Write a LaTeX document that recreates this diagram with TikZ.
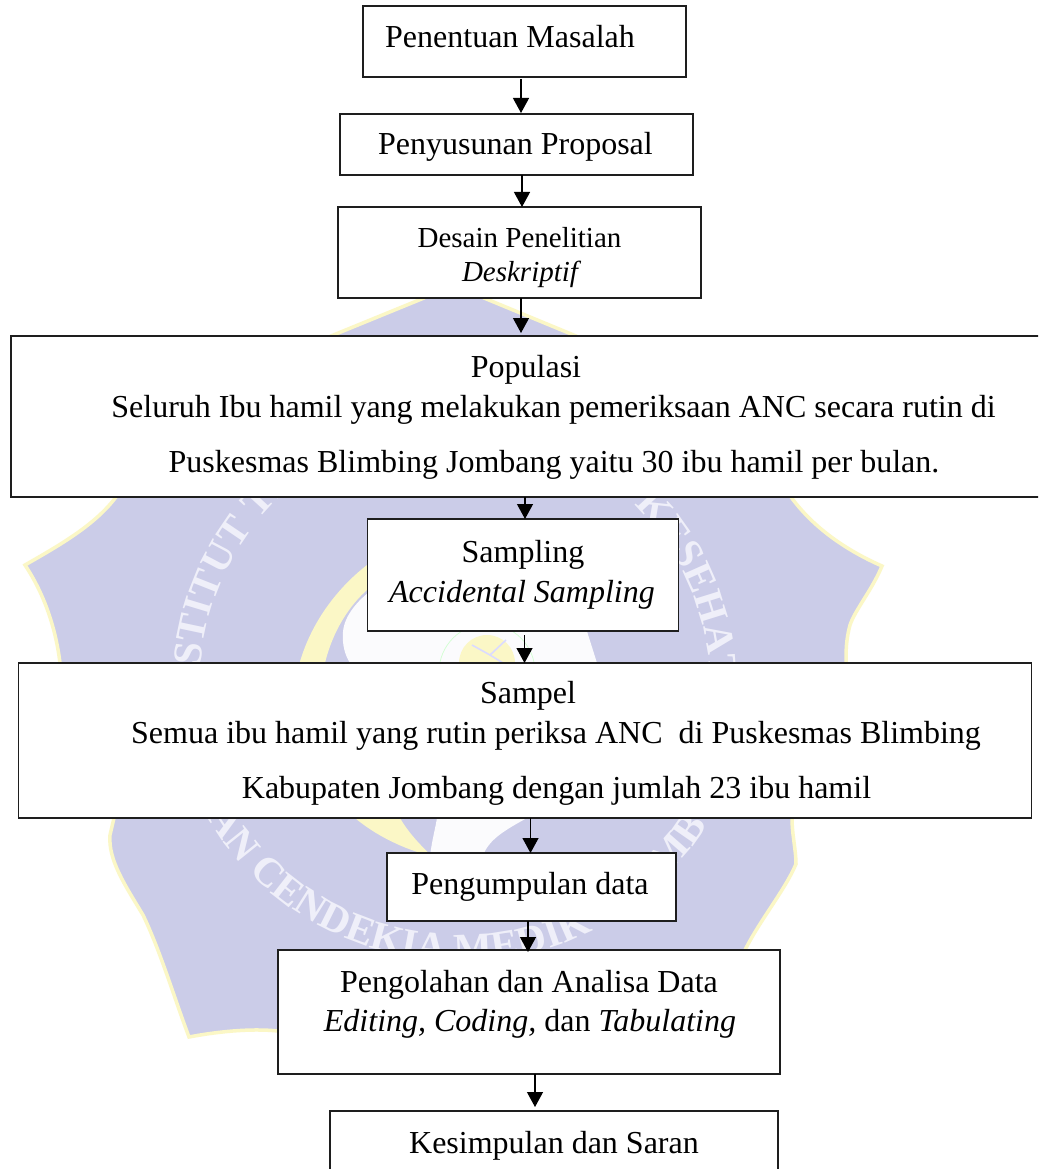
\documentclass[tikz,border=0pt]{standalone}
\usepackage{fontspec}
\setmainfont{Liberation Serif}
\usetikzlibrary{arrows.meta,decorations.text}
\definecolor{badge}{HTML}{CBCCE8}
\definecolor{rim}{HTML}{FBF7C6}
\definecolor{pale}{HTML}{FBFBFD}
\definecolor{wmtext}{HTML}{EFEFF9}
\definecolor{inkline}{HTML}{1E1E1E}
\newcommand\boxline[3]{\makebox[0pt][c]{\hspace{\dimexpr #1pt*2\relax}\raisebox{\dimexpr-1\dimexpr#2pt\relax\relax}[0pt][0pt]{#3}}}
\newcommand\bigfont{\fontsize{32}{38}\selectfont}
\newcommand\midfont{\fontsize{29}{35}\selectfont}
\tikzset{
  flowbox/.style={draw=inkline,line width=1.3pt,fill=white,inner sep=0pt,outer sep=0pt,font=\bigfont},
  flowarrow/.style={draw=black,line width=1.2pt,-{Triangle[length=15pt,width=16pt]}},
  wmarc/.style={decorate,decoration={text along path,text align=left,
    text={|\fontsize{41}{41}\selectfont\bfseries\color{wmtext}|#1}}}
}
\begin{document}
\begin{tikzpicture}[x=1pt,y=-1pt]
\path[use as bounding box,clip] (0,0) rectangle (1038,1169);
\fill[white] (0,0) rectangle (1038,1169);
% watermark badge
\path[fill=badge,draw=rim,line width=3.5pt,line join=miter]
  (453,278) -- (484,298) -- (576,336)
  -- (700,420) -- (791,497)
  .. controls (815,530) and (850,552) .. (882,566)
  .. controls (872,590) and (855,610) .. (850,625)
  .. controls (846,640) and (846,650) .. (846,663)
  -- (792,818) .. controls (792,835) and (796,850) .. (796,864)
  .. controls (785,890) and (760,920) .. (745,950)
  -- (650,1040) -- (530,1040) -- (278,1031)
  .. controls (250,1028) and (215,1032) .. (189,1037)
  .. controls (175,1000) and (160,950) .. (143,915)
  .. controls (125,885) and (108,860) .. (110,835)
  -- (114,818) -- (60,663)
  .. controls (56,630) and (45,595) .. (25,565)
  .. controls (60,545) and (95,525) .. (116,497)
  -- (230,420) -- (331,336) -- (424,298) -- cycle;
% pale central shield
\fill[pale] (343,632) .. controls (345,600) and (400,560) .. (470,555)
  .. controls (530,555) and (575,590) .. (585,625)
  -- (597,663) -- (600,700) -- (527,818)
  .. controls (505,830) and (488,840) .. (483,856) -- (430,856)
  .. controls (432,840) and (435,830) .. (437,818)
  -- (350,663) .. controls (345,655) and (342,645) .. (343,632) -- cycle;
% yellow crescent
\fill[rim] (367,565) .. controls (335,590) and (310,625) .. (299,665)
  .. controls (280,730) and (300,790) .. (355,818)
  .. controls (375,835) and (405,850) .. (432,856)
  .. controls (420,845) and (408,832) .. (400,818)
  .. controls (345,780) and (305,720) .. (325,663)
  .. controls (333,630) and (350,605) .. (367,590) -- cycle;
% small emblem
\draw[green!18!white,line width=.7pt] (487,672) circle[radius=48];
\fill[rim] (487,663) circle[radius=28];
\draw[blue!14!white,line width=1.6pt] (472,645) -- (490,655) -- (506,640) (490,655) -- (503,663);
% arc lettering
\path[wmarc={STITUT TE}] (460,685) ++(-176:260) arc[start angle=-176,end angle=-120,radius=260];
\path[wmarc={KESEHAT}] (460,685) ++(-46:250) arc[start angle=-46,end angle=10,radius=250];
\path[wmarc={AN CENDEKIA MEDIK}] (460,670) ++(150:292) arc[start angle=150,end angle=50,radius=292];
\path[wmarc={MB}] (460,670) ++(45:292) arc[start angle=45,end angle=20,radius=292];
% boxes
\node[flowbox,minimum width=323pt,minimum height=71pt] (masalah) at (524.5,41.5)
  {\boxline{-14.5}{6.5}{Penentuan Masalah}};
\node[flowbox,minimum width=353pt,minimum height=61pt] (proposal) at (516.5,144.5)
  {\boxline{-1}{10.5}{Penyusunan Proposal}};
\node[flowbox,font=\midfont,minimum width=363pt,minimum height=91pt] (desain) at (519.5,252.5)
  {\boxline{0}{-5.5}{Desain Penelitian}\boxline{0.5}{28.5}{\itshape Deskriptif}};
\node[flowbox,minimum width=1029pt,minimum height=161pt] (populasi) at (525.5,416.5)
  {\boxline{0.5}{-39.5}{Populasi}\boxline{28}{0.5}{Seluruh Ibu hamil yang melakukan pemeriksaan ANC secara rutin di}\boxline{28.5}{56}{Puskesmas Blimbing Jombang yaitu 30 ibu hamil per bulan.}};
\node[flowbox,minimum width=311.5pt,minimum height=112pt] (sampling) at (523,575)
  {\boxline{0}{-13}{Sampling}\boxline{-1}{27}{\itshape Accidental Sampling}};
\node[flowbox,minimum width=1012.5pt,minimum height=155pt] (sampel) at (525,740.5)
  {\boxline{3}{-37.5}{Sampel}\boxline{31}{2.5}{Semua ibu hamil yang rutin periksa ANC\ \ di Puskesmas Blimbing}\boxline{31.5}{57.5}{Kabupaten Jombang dengan jumlah 23 ibu hamil}};
\node[flowbox,minimum width=289pt,minimum height=68pt] (kumpul) at (531.5,887)
  {\boxline{-1.5}{7}{Pengumpulan data}};
\node[flowbox,minimum width=502pt,minimum height=124pt] (olah) at (529,1012)
  {\boxline{0}{-20}{Pengolahan dan Analisa Data}\boxline{1}{19}{\textit{Editing, Coding,} dan \textit{Tabulating}}};
\node[flowbox,minimum width=448pt,minimum height=79pt] (simpul) at (554,1150.5)
  {\boxline{0}{2.5}{Kesimpulan dan Saran}};
% connectors
\coordinate (xa) at (521,0);
\coordinate (xb) at (522,0);
\coordinate (xc) at (521,0);
\coordinate (xd) at (525,0);
\coordinate (xe) at (524.5,0);
\coordinate (xf) at (530.5,0);
\coordinate (xg) at (528,0);
\coordinate (xh) at (535,0);
\draw[flowarrow,shorten <=2pt,shorten >=1pt] (masalah.south -| xa) -- (proposal.north -| xa);
\draw[flowarrow] (proposal.south -| xb) -- (desain.north -| xb);
\draw[flowarrow,shorten >=3pt] (desain.south -| xc) -- (populasi.north -| xc);
\draw[flowarrow] (populasi.south -| xd) -- (sampling.north -| xd);
\draw[flowarrow,shorten <=4pt] (sampling.south -| xe) -- (sampel.north -| xe);
\draw[flowarrow] (sampel.south -| xf) -- (kumpul.north -| xf);
\draw[flowarrow,shorten >=-2pt] (kumpul.south -| xg) -- (olah.north -| xg);
\draw[flowarrow,shorten >=4pt] (olah.south -| xh) -- (simpul.north -| xh);
\end{tikzpicture}
\end{document}
